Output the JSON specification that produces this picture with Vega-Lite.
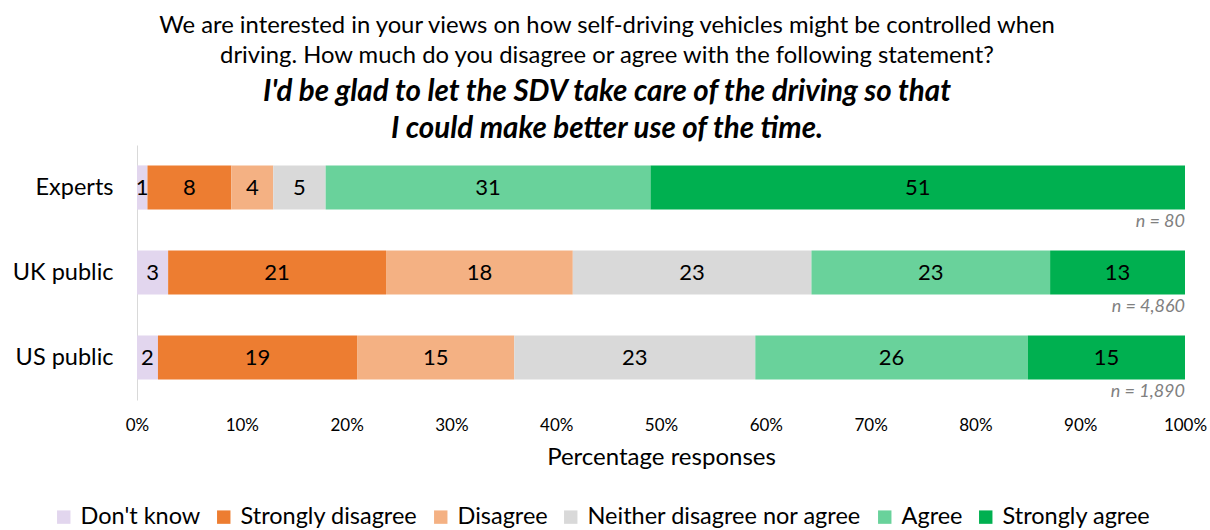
{
  "$schema": "https://vega.github.io/schema/vega-lite/v6.json",
  "width": 1048,
  "height": 255,
  "autosize": {"type": "none"},
  "padding": {"left": 137, "top": 145, "right": 25, "bottom": 130},
  "background": "white",
  "config": {"view": {"stroke": null}, "font": "Lato"},
  "title": {
    "text": ["We are interested in your views on how self-driving vehicles might be controlled when", "driving. How much do you disagree or agree with the following statement?"],
    "subtitle": ["I'd be glad to let the SDV take care of the driving so that", "I could make better use of the time."],
    "font": "Lato",
    "fontSize": 23.8,
    "fontWeight": "normal",
    "color": "black",
    "lineHeight": 30,
    "subtitleFont": "Lato",
    "subtitleFontSize": 29.5,
    "subtitleFontStyle": "italic",
    "subtitleFontWeight": "bold",
    "subtitleColor": "black",
    "subtitleLineHeight": 37,
    "subtitlePadding": 10,
    "anchor": "middle",
    "dx": -54,
    "offset": 2
  },
  "datasets": {
    "resp": [
      {"group": "Experts", "response": "Don't know", "value": 1, "k": 1},
      {"group": "Experts", "response": "Strongly disagree", "value": 8, "k": 2},
      {"group": "Experts", "response": "Disagree", "value": 4, "k": 3},
      {"group": "Experts", "response": "Neither disagree nor agree", "value": 5, "k": 4},
      {"group": "Experts", "response": "Agree", "value": 31, "k": 5},
      {"group": "Experts", "response": "Strongly agree", "value": 51, "k": 6},
      {"group": "UK public", "response": "Don't know", "value": 3, "k": 1},
      {"group": "UK public", "response": "Strongly disagree", "value": 21, "k": 2},
      {"group": "UK public", "response": "Disagree", "value": 18, "k": 3},
      {"group": "UK public", "response": "Neither disagree nor agree", "value": 23, "k": 4},
      {"group": "UK public", "response": "Agree", "value": 23, "k": 5},
      {"group": "UK public", "response": "Strongly agree", "value": 13, "k": 6},
      {"group": "US public", "response": "Don't know", "value": 2, "k": 1},
      {"group": "US public", "response": "Strongly disagree", "value": 19, "k": 2},
      {"group": "US public", "response": "Disagree", "value": 15, "k": 3},
      {"group": "US public", "response": "Neither disagree nor agree", "value": 23, "k": 4},
      {"group": "US public", "response": "Agree", "value": 26, "k": 5},
      {"group": "US public", "response": "Strongly agree", "value": 15, "k": 6}
    ],
    "ns": [
      {"group": "Experts", "n": "n = 80"},
      {"group": "UK public", "n": "n = 4,860"},
      {"group": "US public", "n": "n = 1,890"}
    ]
  },
  "layer": [
    {
      "data": {"name": "resp"},
      "transform": [
        {"stack": "value", "groupby": ["group"], "sort": [{"field": "k"}], "offset": "normalize", "as": ["x0", "x1"]},
        {"calculate": "(datum.x0 + datum.x1) / 2", "as": "xm"}
      ],
      "encoding": {
        "y": {
          "field": "group", "type": "nominal",
          "sort": ["Experts", "UK public", "US public"],
          "scale": {"paddingInner": 0.48, "paddingOuter": 0.24},
          "axis": {"title": null, "ticks": false, "domainColor": "#D9D9D9", "domainWidth": 1, "labelFontSize": 23.5, "labelColor": "black", "labelPadding": 24, "labelFont": "Lato"}
        }
      },
      "layer": [
        {
          "mark": {"type": "bar"},
          "encoding": {
            "x": {
              "field": "x0", "type": "quantitative",
              "scale": {"domain": [0, 1]},
              "axis": {"title": "Percentage responses", "format": ".0%", "values": [0, 0.1, 0.2, 0.3, 0.4, 0.5, 0.6, 0.7, 0.8, 0.9, 1], "grid": false, "ticks": false, "domain": false, "labelFlush": false, "labelOverlap": false, "labelFontSize": 17, "labelColor": "black", "labelPadding": 17, "titleFontSize": 24, "titleFontWeight": "normal", "titleColor": "black", "titlePadding": 12, "labelFont": "Lato", "titleFont": "Lato"}
            },
            "x2": {"field": "x1"},
            "color": {
              "field": "response", "type": "nominal",
              "scale": {
                "domain": ["Don't know", "Strongly disagree", "Disagree", "Neither disagree nor agree", "Agree", "Strongly agree"],
                "range": ["#E2D6EE", "#ED7D31", "#F4B183", "#D9D9D9", "#69D29B", "#00B050"]
              },
              "legend": {
                "orient": "none", "legendX": -85, "legendY": 360, "direction": "horizontal", "columns": 6,
                "title": null, "symbolType": "square", "symbolSize": 180, "symbolStrokeWidth": 0,
                "labelFontSize": 23.5, "labelColor": "black", "labelFont": "Lato", "labelLimit": 0, "columnPadding": 11, "labelOffset": 5
              }
            }
          }
        },
        {
          "mark": {"type": "text", "fontSize": 22, "color": "black", "font": "Lato"},
          "encoding": {
            "x": {"field": "xm", "type": "quantitative"},
            "text": {"field": "value", "type": "quantitative"}
          }
        }
      ]
    },
    {
      "data": {"name": "ns"},
      "mark": {"type": "text", "align": "right", "dy": 34, "fontSize": 18, "fontStyle": "italic", "color": "#808080", "font": "Lato"},
      "encoding": {
        "y": {"field": "group", "type": "nominal", "sort": ["Experts", "UK public", "US public"]},
        "x": {"datum": 1, "type": "quantitative"},
        "text": {"field": "n"}
      }
    }
  ]
}
